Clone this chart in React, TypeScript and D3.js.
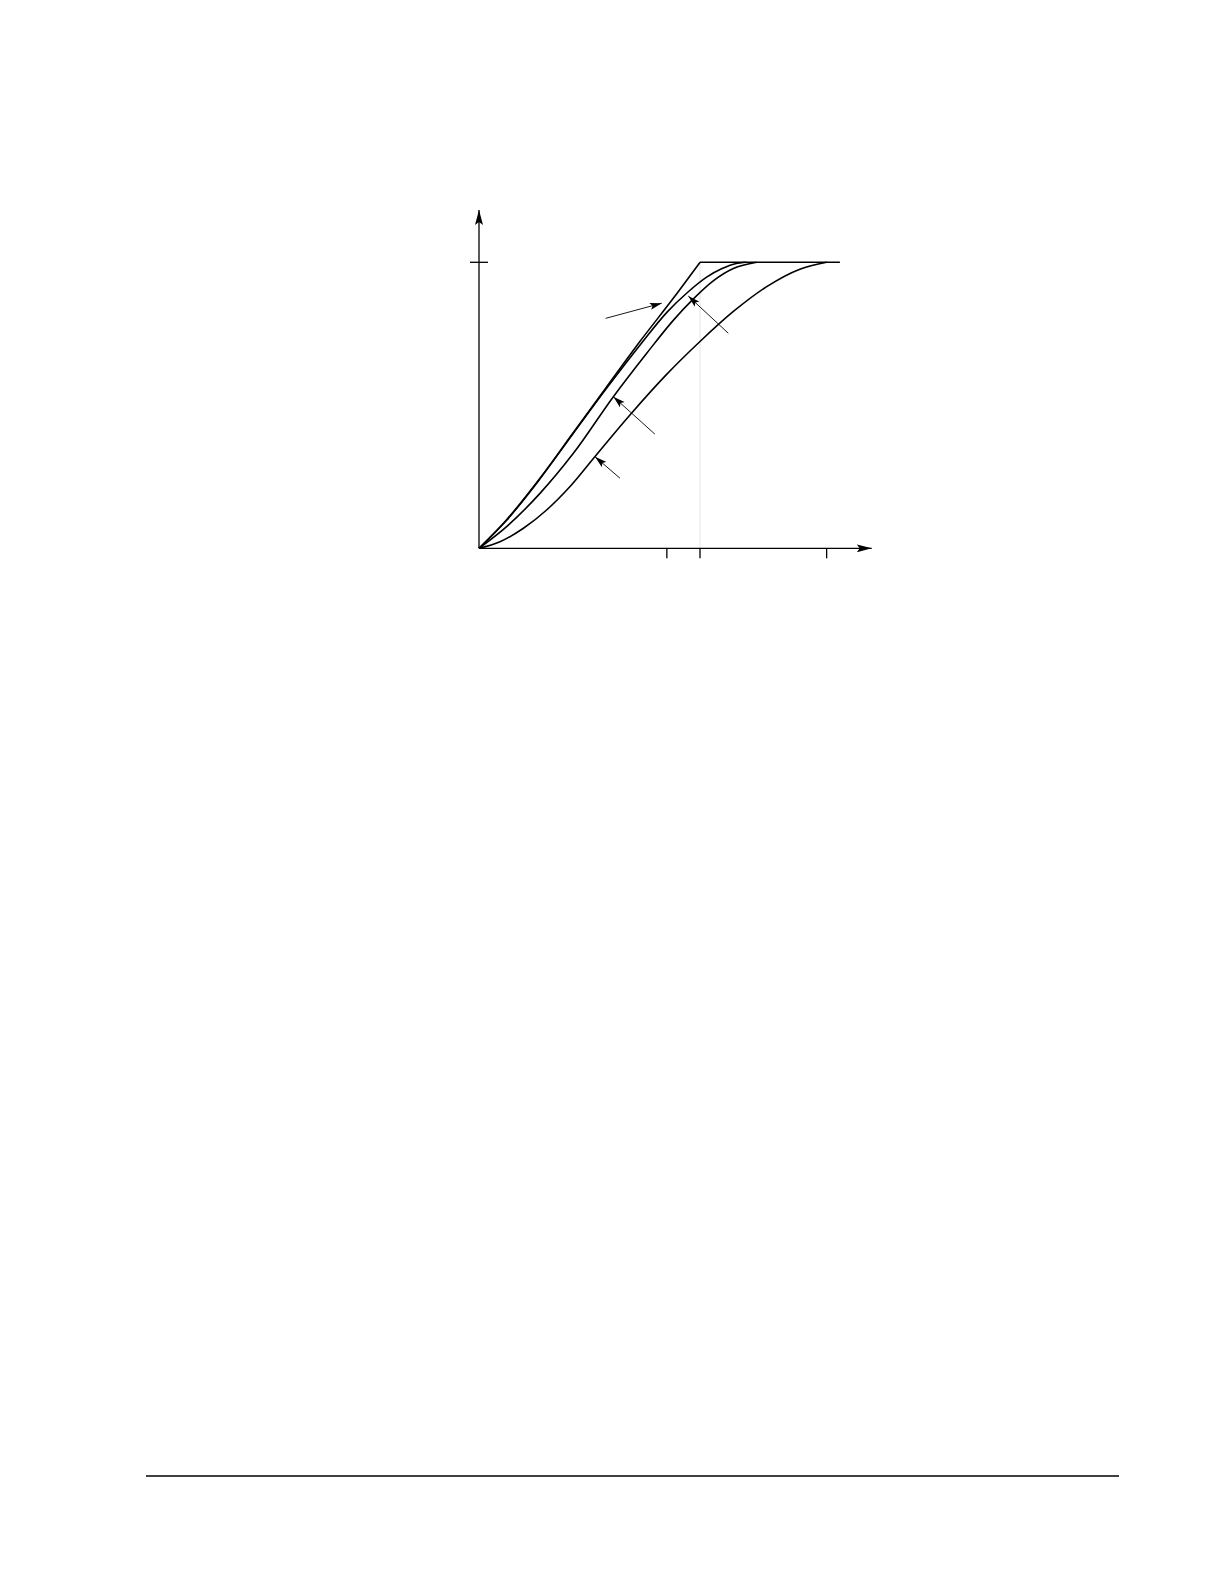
import { useEffect, useRef } from 'react';
import * as d3 from 'd3';

type Pt = [number, number];

// curves (x: input, y: output, saturates at 1)
const curveA: Pt[] = [
  [0, 0], [0.125, 0.1], [0.276, 0.245], [0.427, 0.405], [0.578, 0.565],
  [0.728, 0.723], [0.879, 0.874], [1.0, 1.0],
];
const curveB: Pt[] = [
  [0, 0], [0.125, 0.098], [0.276, 0.243], [0.427, 0.402], [0.578, 0.56],
  [0.728, 0.71], [0.85, 0.825], [0.947, 0.897], [1.03, 0.948], [1.1, 0.978],
  [1.16, 0.995], [1.21, 1.0],
];
const curveC: Pt[] = [
  [0, 0], [0.125, 0.076], [0.276, 0.192], [0.427, 0.332], [0.608, 0.53],
  [0.759, 0.682], [0.879, 0.797], [0.97, 0.872], [1.06, 0.935], [1.151, 0.978], [1.256, 1.0],
];
const curveD: Pt[] = [
  [0, 0], [0.095, 0.023], [0.201, 0.07], [0.306, 0.134], [0.412, 0.216],
  [0.525, 0.321], [0.683, 0.466], [0.849, 0.608], [1.0, 0.723], [1.151, 0.828],
  [1.302, 0.915], [1.452, 0.976], [1.573, 1.0],
];
const curves = [curveA, curveB, curveC, curveD];

const saturation: Pt[] = [[1.0, 1.0], [1.633, 1.0]];
const xTicks = [0.85, 1.0, 1.573];
const yTicks = [1.0];

// pointer arrows [from, to]
const pointers: [Pt, Pt][] = [
  [[0.573, 0.804], [0.827, 0.857]],
  [[1.128, 0.752], [0.947, 0.882]],
  [[0.796, 0.399], [0.608, 0.53]],
  [[0.638, 0.245], [0.525, 0.32]],
];

export default function App() {
  const svgRef = useRef<SVGSVGElement>(null);

  useEffect(() => {
    const svg = d3.select(svgRef.current);
    if (!svg.node()) return;
    svg.selectAll('*').remove();

    const width = 1224;
    const height = 1584;
    svg.attr('viewBox', `0 0 ${width} ${height}`);

    const x = d3.scaleLinear().domain([0, 1]).range([479, 700]);
    const y = d3.scaleLinear().domain([0, 1]).range([548.3, 262.3]);

    const defs = svg.append('defs');
    defs.append('marker')
      .attr('id', 'axis-head')
      .attr('viewBox', '0 0 15 8')
      .attr('refX', 15)
      .attr('refY', 4)
      .attr('markerWidth', 15)
      .attr('markerHeight', 8)
      .attr('markerUnits', 'userSpaceOnUse')
      .attr('orient', 'auto')
      .append('path')
      .attr('d', 'M0,0 L15,4 L0,8 L3,4 Z')
      .attr('fill', '#000');
    defs.append('marker')
      .attr('id', 'ptr-head')
      .attr('viewBox', '0 0 12 7')
      .attr('refX', 12)
      .attr('refY', 3.5)
      .attr('markerWidth', 12)
      .attr('markerHeight', 7)
      .attr('markerUnits', 'userSpaceOnUse')
      .attr('orient', 'auto')
      .append('path')
      .attr('d', 'M0,0 L12,3.5 L0,7 L2.5,3.5 Z')
      .attr('fill', '#000');

    const g = svg.append('g');

    // faint guide at the knee
    g.append('line')
      .attr('x1', x(1)).attr('x2', x(1))
      .attr('y1', y(0)).attr('y2', y(1))
      .attr('stroke', '#e6e6e6')
      .attr('stroke-width', 1);

    // axes with arrow ends
    g.append('line')
      .attr('x1', x(0)).attr('y1', y(0))
      .attr('x2', x(0)).attr('y2', y(1.183))
      .attr('stroke', '#000').attr('stroke-width', 1.3)
      .attr('marker-end', 'url(#axis-head)');
    g.append('line')
      .attr('x1', x(0)).attr('y1', y(0))
      .attr('x2', x(1.777)).attr('y2', y(0))
      .attr('stroke', '#000').attr('stroke-width', 1.3)
      .attr('marker-end', 'url(#axis-head)');

    g.append('g')
      .selectAll('line')
      .data(xTicks)
      .join('line')
      .attr('x1', (d) => x(d)).attr('x2', (d) => x(d))
      .attr('y1', y(0)).attr('y2', y(0) + 10)
      .attr('stroke', '#000').attr('stroke-width', 1.3);

    g.append('g')
      .selectAll('line')
      .data(yTicks)
      .join('line')
      .attr('x1', x(0) - 9).attr('x2', x(0) + 9)
      .attr('y1', (d) => y(d)).attr('y2', (d) => y(d))
      .attr('stroke', '#000').attr('stroke-width', 1.3);

    const line = d3.line<Pt>()
      .x((d) => x(d[0]))
      .y((d) => y(d[1]))
      .curve(d3.curveMonotoneX);

    g.append('g')
      .selectAll('path')
      .data(curves)
      .join('path')
      .attr('d', (d) => line(d))
      .attr('fill', 'none')
      .attr('stroke', '#000')
      .attr('stroke-width', 1.6);

    g.append('path')
      .attr('d', d3.line<Pt>().x((d) => x(d[0])).y((d) => y(d[1]))(saturation))
      .attr('fill', 'none')
      .attr('stroke', '#000')
      .attr('stroke-width', 1.6);

    g.append('g')
      .selectAll('line')
      .data(pointers)
      .join('line')
      .attr('x1', (d) => x(d[0][0])).attr('y1', (d) => y(d[0][1]))
      .attr('x2', (d) => x(d[1][0])).attr('y2', (d) => y(d[1][1]))
      .attr('stroke', '#000')
      .attr('stroke-width', 0.9)
      .attr('marker-end', 'url(#ptr-head)');

    // page rule at the bottom
    svg.append('line')
      .attr('x1', 146).attr('x2', 1119)
      .attr('y1', 1476).attr('y2', 1476)
      .attr('stroke', '#000').attr('stroke-width', 1.3);
  }, []);

  return (
    <svg
      ref={svgRef}
      width={1224}
      height={1584}
      style={{ position: 'absolute', left: 0, top: 0, background: '#fff' }}
    />
  );
}
